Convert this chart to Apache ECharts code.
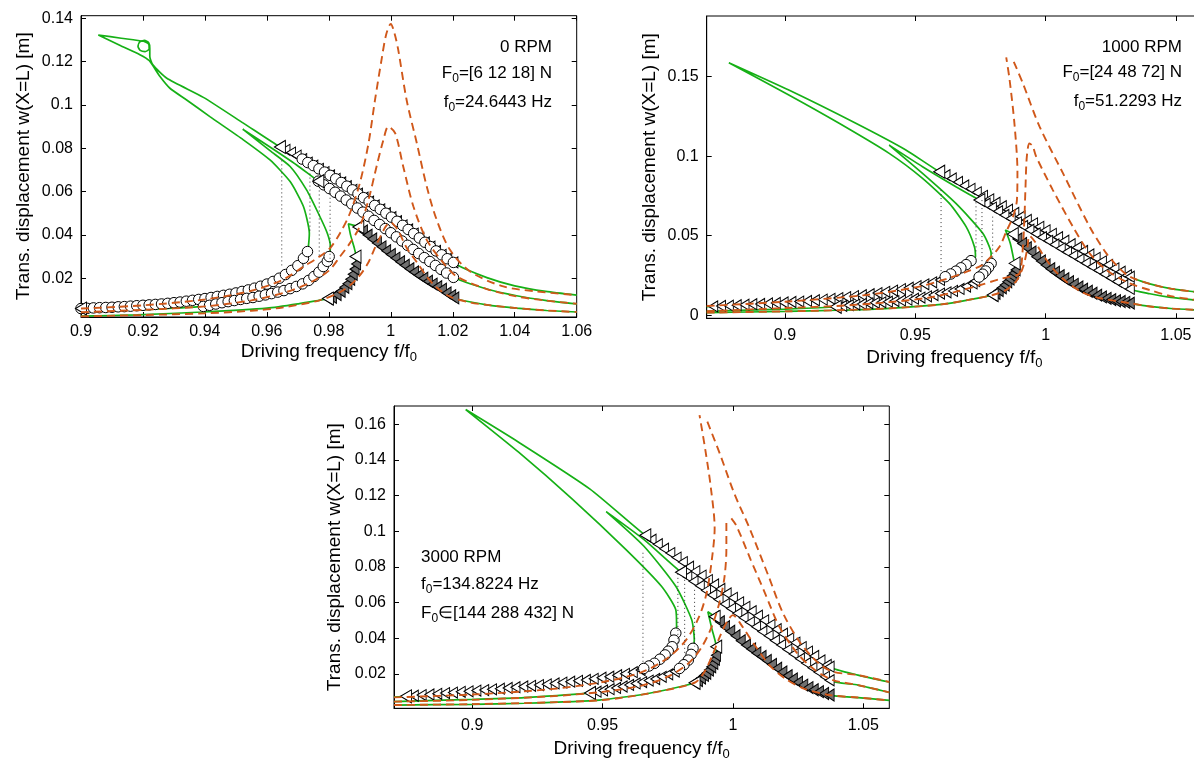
<!DOCTYPE html>
<html>
<head>
<meta charset="utf-8">
<title>Frequency response</title>
<script src="https://cdn.jsdelivr.net/npm/echarts@6/dist/echarts.min.js"></script>
<style>
  html, body { margin: 0; padding: 0; background: #fff; }
  #chart { width: 1194px; height: 764px; }
</style>
</head>
<body>
<div id="chart"></div>
<script>
// ---------- ticks ----------
const p1XTicks = [0.9, 0.92, 0.94, 0.96, 0.98, 1, 1.02, 1.04, 1.06];
const p1YTicks = [0.02, 0.04, 0.06, 0.08, 0.1, 0.12, 0.14];
const p2XTicks = [0.9, 0.95, 1, 1.05];
const p2YTicks = [0, 0.05, 0.1, 0.15];
const p3XTicks = [0.9, 0.95, 1, 1.05];
const p3YTicks = [0.02, 0.04, 0.06, 0.08, 0.1, 0.12, 0.14, 0.16];

// ---------- panel 1 : 0 RPM ----------
const p1Green1 = [[1.06,0.0122],[1.05,0.0139],[1.04,0.0165],[1.031,0.0203],[1.0213,0.0262],[1.0128,0.0346],[1.0002,0.0482],[0.9894,0.059],[0.9804,0.0675],[0.9714,0.075],[0.9642,0.0806],[0.9524,0.0916],[0.9395,0.1035],[0.9277,0.1123],[0.9232,0.1185],[0.9222,0.1225],[0.9222,0.1262],[0.9218,0.1288],[0.9205,0.1298],[0.9189,0.129],[0.9184,0.127],[0.9191,0.1252],[0.9207,0.1246],[0.922,0.1258],[0.9219,0.128],[0.9202,0.1294],[0.913,0.1308],[0.9056,0.1323],[0.913,0.1272],[0.919,0.1232],[0.922,0.1205],[0.9255,0.1131],[0.9287,0.1077],[0.9341,0.1023],[0.9416,0.0946],[0.9524,0.0839],[0.961,0.0746],[0.9675,0.0646],[0.9718,0.0531],[0.9737,0.0408],[0.9734,0.0346],[0.9731,0.0323],[0.9718,0.0292],[0.97,0.0258],[0.966,0.0217],[0.96,0.0173],[0.954,0.0146],[0.948,0.0126],[0.942,0.0111],[0.936,0.0098],[0.93,0.0087],[0.921,0.0076],[0.912,0.0068],[0.9,0.006]];
const p1Green2 = [[1.06,0.0082],[1.0503,0.0097],[1.0406,0.0119],[1.031,0.015],[1.0202,0.0204],[1.0108,0.0295],[1.0,0.041],[0.991,0.0505],[0.9802,0.0614],[0.9766,0.0648],[0.9696,0.0723],[0.961,0.0806],[0.9522,0.0888],[0.961,0.0789],[0.9675,0.0716],[0.9728,0.0608],[0.9766,0.05],[0.9795,0.0408],[0.9805,0.0346],[0.9801,0.03],[0.9782,0.0254],[0.9739,0.0193],[0.9664,0.0147],[0.9556,0.0111],[0.9449,0.0085],[0.9395,0.007],[0.92,0.0055],[0.9,0.0045]];
const p1Green3 = [[1.06,0.0044],[1.0503,0.0051],[1.0406,0.0062],[1.031,0.0077],[1.0213,0.0103],[1.0205,0.0109],[1.0135,0.0173],[1.006,0.0244],[1.0,0.031],[0.994,0.0381],[0.9895,0.0437],[0.9863,0.0451],[0.987,0.04],[0.9882,0.034],[0.9888,0.03],[0.9888,0.0266],[0.9879,0.022],[0.9858,0.0173],[0.9825,0.0127],[0.9797,0.0106],[0.97,0.0082],[0.96,0.0062],[0.9395,0.0044],[0.918,0.0031],[0.9,0.0025]];
const p1Dash1 = [[0.9,0.006],[0.92,0.0075],[0.94,0.0102],[0.955,0.0142],[0.965,0.0192],[0.972,0.0255],[0.977,0.03],[0.9804,0.0339],[0.9836,0.0408],[0.9868,0.05],[0.99,0.0639],[0.9928,0.0823],[0.9949,0.1023],[0.997,0.1208],[0.9985,0.1325],[1.0,0.1374],[1.0012,0.133],[1.0024,0.1254],[1.0051,0.1023],[1.0084,0.0823],[1.0116,0.0623],[1.0148,0.047],[1.0191,0.0331],[1.0256,0.0231],[1.0363,0.0162],[1.047,0.0139],[1.06,0.0122]];
const p1Dash2 = [[0.9,0.0043],[0.92,0.0054],[0.94,0.007],[0.955,0.0098],[0.966,0.0135],[0.974,0.018],[0.98,0.0235],[0.9836,0.03],[0.9868,0.0362],[0.99,0.0439],[0.9928,0.0562],[0.9954,0.0716],[0.9976,0.0838],[0.9992,0.09],[1.0014,0.087],[1.004,0.0716],[1.0073,0.0531],[1.0116,0.0377],[1.017,0.027],[1.0213,0.0208],[1.031,0.015],[1.0406,0.0116],[1.05,0.0097],[1.06,0.0082]];
const p1Dash3 = [[0.9,0.0024],[0.92,0.003],[0.94,0.0038],[0.955,0.005],[0.965,0.0065],[0.977,0.0098],[0.9836,0.0136],[0.9868,0.0167],[0.99,0.0213],[0.9928,0.0274],[0.9949,0.0341],[0.997,0.0403],[0.9985,0.0442],[1.0,0.0458],[1.0012,0.0443],[1.0024,0.042],[1.0051,0.0341],[1.0084,0.0274],[1.0116,0.0208],[1.0148,0.0157],[1.0191,0.0115],[1.0256,0.0088],[1.031,0.0077],[1.0406,0.0062],[1.0503,0.0051],[1.06,0.0044]];
const p1TriTop = [[0.9642,0.0806],[0.966,0.0793],[0.9678,0.078],[0.9696,0.0766],[0.9714,0.075],[0.9732,0.0734],[0.975,0.072],[0.9768,0.0705],[0.9786,0.069],[0.9804,0.0675],[0.9822,0.0659],[0.984,0.0642],[0.9858,0.0625],[0.9876,0.0608],[0.9894,0.059],[0.9912,0.0572],[0.993,0.0554],[0.9948,0.0536],[0.9966,0.0518],[0.9984,0.05],[1.0002,0.0482],[1.002,0.0463],[1.0038,0.0444],[1.0056,0.0425],[1.0074,0.0406],[1.0092,0.0386],[1.011,0.0366],[1.0128,0.0346],[1.0146,0.0326],[1.0164,0.0308],[1.0182,0.029],[1.0202,0.0273]];
const p1CircMid = [[0.9766,0.0648],[0.9784,0.0631],[0.9802,0.0614],[0.982,0.0597],[0.9838,0.0579],[0.9856,0.0561],[0.9874,0.0543],[0.9892,0.0524],[0.991,0.0505],[0.9928,0.0486],[0.9946,0.0467],[0.9964,0.0448],[0.9982,0.0429],[1.0,0.041],[1.0018,0.0391],[1.0036,0.0372],[1.0054,0.0352],[1.0072,0.0333],[1.009,0.0314],[1.0108,0.0295],[1.0126,0.0277],[1.0144,0.0259],[1.0162,0.0241],[1.018,0.0224],[1.0202,0.0204]];
const p1GrayUp = [[0.9895,0.0437],[0.991,0.0418],[0.9925,0.0399],[0.994,0.0381],[0.9955,0.0363],[0.997,0.0345],[0.9985,0.0327],[1.0,0.031],[1.0015,0.0293],[1.003,0.0276],[1.0045,0.026],[1.006,0.0244],[1.0075,0.0229],[1.009,0.0214],[1.0105,0.02],[1.012,0.0186],[1.0135,0.0173],[1.015,0.0161],[1.0165,0.0149],[1.018,0.0132],[1.0195,0.0119],[1.0205,0.0109]];
const p1CircLow1 = [[0.9,0.006],[0.902,0.0061],[0.904,0.0063],[0.906,0.0064],[0.908,0.0065],[0.91,0.0066],[0.912,0.0068],[0.914,0.0069],[0.916,0.0071],[0.918,0.0073],[0.92,0.0075],[0.922,0.0077],[0.924,0.0079],[0.926,0.0081],[0.928,0.0084],[0.93,0.0087],[0.932,0.009],[0.934,0.0094],[0.936,0.0098],[0.938,0.0102],[0.94,0.0106],[0.942,0.0111],[0.944,0.0116],[0.946,0.0121],[0.948,0.0126],[0.95,0.0132],[0.952,0.0139],[0.954,0.0146],[0.956,0.0154],[0.958,0.0163],[0.96,0.0173],[0.962,0.0185],[0.964,0.02],[0.966,0.0217],[0.968,0.0236],[0.97,0.0258],[0.9718,0.0292],[0.9731,0.0323]];
const p1CircLow2 = [[0.9395,0.007],[0.9415,0.0075],[0.9435,0.0081],[0.9455,0.0087],[0.9475,0.0092],[0.9495,0.0097],[0.9515,0.0102],[0.9535,0.0107],[0.9555,0.0111],[0.9575,0.0117],[0.9595,0.0123],[0.9615,0.0129],[0.9635,0.0136],[0.9655,0.0143],[0.9675,0.0152],[0.9695,0.0162],[0.9715,0.0174],[0.9735,0.019],[0.9752,0.0208],[0.9768,0.0228],[0.9782,0.0254],[0.9795,0.0278],[0.9801,0.03]];
const p1GrayLow = [[0.9797,0.0106],[0.981,0.0112],[0.9825,0.0125],[0.9838,0.014],[0.985,0.0158],[0.986,0.0175],[0.9869,0.0195],[0.9877,0.0218],[0.9883,0.0242],[0.9888,0.0266]];
const p1Starts = [[0.9642,0.0806],[0.9766,0.0648],[0.9895,0.0437],[0.9886,0.03],[0.9797,0.0106],[0.9,0.006]];
const p1Dots = [[0.9648,0.0744,0.025],[0.9739,0.0683,0.042],[0.9769,0.0605,0.0296],[0.9804,0.059,0.028]];

// ---------- panel 2 : 1000 RPM ----------
const p2Green1 = [[1.06,0.0142],[1.0567,0.0148],[1.048,0.0167],[1.04,0.0197],[1.0323,0.0242],[1.0,0.0534],[0.9592,0.0903],[0.9464,0.1039],[0.9272,0.1207],[0.9015,0.1416],[0.8785,0.1588],[0.9015,0.1385],[0.9208,0.1207],[0.94,0.1018],[0.9528,0.0861],[0.9631,0.0703],[0.9695,0.0557],[0.9727,0.0431],[0.9731,0.0368],[0.9714,0.0343],[0.9656,0.0277],[0.9595,0.0222],[0.9464,0.0169],[0.9272,0.0121],[0.908,0.0089],[0.8887,0.007],[0.87,0.0053]];
const p2Green2 = [[1.06,0.0091],[1.0567,0.0096],[1.048,0.0112],[1.04,0.0135],[1.0323,0.0165],[1.0,0.0478],[0.9746,0.0724],[0.9656,0.0808],[0.9528,0.0934],[0.94,0.107],[0.9528,0.0892],[0.9656,0.0703],[0.9759,0.0515],[0.9791,0.0389],[0.9791,0.0326],[0.9759,0.0258],[0.972,0.02],[0.9656,0.0158],[0.9528,0.0116],[0.94,0.0085],[0.9272,0.0068],[0.9195,0.0053],[0.9,0.0038],[0.87,0.0025]];
const p2Green3 = [[1.06,0.0032],[1.0567,0.0034],[1.048,0.0042],[1.04,0.0055],[1.0323,0.0076],[1.0208,0.0116],[1.008,0.0221],[0.9977,0.0347],[0.9874,0.051],[0.9846,0.0536],[0.9865,0.045],[0.9881,0.0326],[0.9887,0.029],[0.9875,0.0245],[0.985,0.0195],[0.982,0.0155],[0.9797,0.0127],[0.97,0.0095],[0.96,0.0068],[0.94,0.0043],[0.92,0.0031],[0.9,0.0024],[0.87,0.0016]];
const p2Dash1a = [[0.87,0.0058],[0.9,0.0085],[0.93,0.0125],[0.95,0.0175],[0.962,0.0228],[0.97,0.0275],[0.9753,0.0312],[0.9785,0.0358],[0.9823,0.043],[0.9849,0.0525],[0.9875,0.062],[0.989,0.0724],[0.9892,0.09],[0.9881,0.1196],[0.9862,0.148],[0.9849,0.1622]];
const p2Dash1b = [[0.9878,0.1594],[0.9913,0.1458],[0.9977,0.1186],[1.0067,0.0892],[1.0169,0.0557],[1.0233,0.0389],[1.028,0.03],[1.0323,0.0242],[1.04,0.0197],[1.048,0.0167],[1.0567,0.0148],[1.06,0.0142]];
const p2Dash2 = [[0.87,0.0025],[0.9,0.0045],[0.92,0.0058],[0.94,0.0082],[0.955,0.011],[0.965,0.0145],[0.975,0.019],[0.982,0.0225],[0.987,0.0245],[0.99,0.0263],[0.9913,0.0431],[0.9919,0.062],[0.9923,0.0808],[0.9928,0.0997],[0.9938,0.108],[0.995,0.1065],[0.9964,0.0997],[1.0028,0.0787],[1.0105,0.0556],[1.0169,0.0389],[1.0233,0.0284],[1.0323,0.02],[1.04,0.0158],[1.048,0.012],[1.0567,0.0098],[1.06,0.0091]];
const p2Dash3 = [[0.87,0.0016],[0.9,0.0024],[0.92,0.0031],[0.94,0.0043],[0.96,0.0068],[0.97,0.0095],[0.9797,0.0127],[0.985,0.016],[0.989,0.022],[0.9915,0.031],[0.993,0.042],[0.9938,0.05],[0.996,0.046],[0.999,0.038],[1.003,0.029],[1.008,0.021],[1.014,0.0145],[1.02,0.011],[1.0323,0.0076],[1.04,0.0055],[1.048,0.0042],[1.0567,0.0034],[1.06,0.0032]];
const p2TriTop = [[0.9592,0.0903],[0.9616,0.0881],[0.964,0.086],[0.9664,0.0838],[0.9688,0.0816],[0.9712,0.0795],[0.9736,0.0773],[0.976,0.0751],[0.9784,0.0729],[0.9808,0.0708],[0.9832,0.0686],[0.9856,0.0664],[0.988,0.0643],[0.9904,0.0621],[0.9928,0.0599],[0.9952,0.0578],[0.9976,0.0556],[1.0,0.0534],[1.0024,0.0512],[1.0048,0.0491],[1.0072,0.0469],[1.0096,0.0447],[1.012,0.0426],[1.0144,0.0404],[1.0168,0.0382],[1.0192,0.0361],[1.0216,0.0339],[1.024,0.0317],[1.0264,0.0295],[1.0288,0.0274],[1.0312,0.0252],[1.0323,0.0242]];
const p2TriMid = [[0.9746,0.0724],[0.977,0.0701],[0.9794,0.0677],[0.9818,0.0654],[0.9842,0.0631],[0.9866,0.0608],[0.989,0.0584],[0.9914,0.0561],[0.9938,0.0538],[0.9962,0.0514],[0.9986,0.0491],[1.001,0.0468],[1.0034,0.0445],[1.0058,0.0421],[1.0082,0.0398],[1.0106,0.0375],[1.013,0.0352],[1.0154,0.0328],[1.0178,0.0305],[1.0202,0.0282],[1.0226,0.0259],[1.025,0.0235],[1.0274,0.0212],[1.0298,0.0189],[1.0323,0.0165]];
const p2GrayUp = [[0.9874,0.051],[0.9892,0.048],[0.991,0.0451],[0.9928,0.0424],[0.9946,0.0398],[0.9964,0.0368],[0.9982,0.0341],[1.0,0.0316],[1.0018,0.0292],[1.0036,0.027],[1.0054,0.0249],[1.0072,0.0229],[1.009,0.0211],[1.0108,0.0194],[1.0126,0.0178],[1.0144,0.0164],[1.0162,0.0151],[1.018,0.0138],[1.0198,0.0126],[1.0216,0.0115],[1.0234,0.0106],[1.0252,0.0098],[1.027,0.0091],[1.0288,0.0086],[1.0306,0.0081],[1.0323,0.0076]];
const p2TriLow1 = [[0.8695,0.0053],[0.8725,0.0055],[0.8755,0.0058],[0.8785,0.006],[0.8815,0.0063],[0.8845,0.0066],[0.8875,0.0069],[0.8905,0.0071],[0.8935,0.0074],[0.8965,0.0077],[0.8995,0.008],[0.9025,0.0083],[0.9055,0.0086],[0.9085,0.009],[0.9115,0.0094],[0.9145,0.0098],[0.9175,0.0103],[0.9205,0.0108],[0.9235,0.0114],[0.9265,0.012],[0.9295,0.0126],[0.9325,0.0132],[0.9355,0.0139],[0.9385,0.0147],[0.9415,0.0155],[0.9445,0.0164],[0.9475,0.0173],[0.9505,0.0183],[0.9535,0.0194],[0.9565,0.0207],[0.9595,0.0222]];
const p2TriLow2 = [[0.9195,0.0053],[0.922,0.0058],[0.9245,0.0063],[0.927,0.0067],[0.9295,0.0071],[0.932,0.0075],[0.9345,0.0078],[0.937,0.0081],[0.9395,0.0085],[0.942,0.0089],[0.9445,0.0093],[0.947,0.0098],[0.9495,0.0104],[0.952,0.0111],[0.9545,0.0119],[0.957,0.0127],[0.9595,0.0136],[0.962,0.0144],[0.9645,0.0153],[0.967,0.0165],[0.9695,0.018],[0.972,0.02],[0.973,0.0215]];
const p2CircLow1 = [[0.9714,0.0343],[0.9695,0.0318],[0.9675,0.0298],[0.9656,0.0277],[0.9636,0.0259],[0.9615,0.0242]];
const p2CircLow2 = [[0.9791,0.0326],[0.9781,0.03],[0.977,0.0278],[0.9759,0.0258],[0.9745,0.024]];
const p2GrayLow = [[0.9797,0.0127],[0.9808,0.0138],[0.982,0.0155],[0.9832,0.0172],[0.9843,0.019],[0.9853,0.021],[0.9862,0.0228],[0.987,0.0247],[0.9878,0.0266],[0.9885,0.0285]];
const p2Starts = [[0.9592,0.0903],[0.9746,0.0724],[0.9874,0.051],[0.9881,0.0326],[0.9797,0.0127],[0.8695,0.0053],[0.9195,0.0053]];
const p2Dots = [[0.9599,0.0787,0.0263],[0.9733,0.0735,0.0389],[0.9756,0.0724,0.0305],[0.9797,0.062,0.0347]];

// ---------- panel 3 : 3000 RPM ----------
const p3Green1 = [[1.06,0.0155],[1.048,0.0194],[1.037,0.0241],[1.0,0.0627],[0.9664,0.0978],[0.9452,0.1237],[0.9178,0.15],[0.8975,0.1683],[0.9178,0.1444],[0.9384,0.1181],[0.9589,0.0899],[0.9726,0.0692],[0.9781,0.056],[0.9784,0.0466],[0.9781,0.0429],[0.9767,0.0353],[0.974,0.0307],[0.9699,0.026],[0.9658,0.0231],[0.952,0.0184],[0.9315,0.0147],[0.911,0.0118],[0.8904,0.0094],[0.8746,0.0075],[0.87,0.0071]];
const p3Green2 = [[1.06,0.0097],[1.048,0.0138],[1.037,0.0165],[1.0,0.0559],[0.9801,0.0771],[0.9658,0.0955],[0.9514,0.1111],[0.9658,0.0918],[0.9781,0.0692],[0.9842,0.0504],[0.9852,0.0391],[0.9847,0.0344],[0.9829,0.0278],[0.9795,0.0231],[0.9726,0.0184],[0.9589,0.0137],[0.9452,0.0094],[0.92,0.0068],[0.9,0.0058],[0.87,0.0045]];
const p3Green3 = [[1.06,0.0052],[1.048,0.0068],[1.0371,0.0082],[1.0256,0.0148],[1.0128,0.0278],[1.0026,0.0391],[0.993,0.0521],[0.9904,0.0549],[0.992,0.045],[0.9936,0.0353],[0.9936,0.0316],[0.993,0.026],[0.9898,0.0204],[0.9853,0.0151],[0.968,0.0092],[0.9488,0.0054],[0.92,0.0036],[0.9,0.003],[0.87,0.0026]];
const p3Dash1a = [[0.87,0.0069],[0.9,0.0085],[0.93,0.0115],[0.95,0.0155],[0.965,0.021],[0.975,0.029],[0.982,0.039],[0.987,0.052],[0.99,0.066],[0.992,0.085],[0.993,0.1017],[0.9915,0.125],[0.9895,0.145],[0.9872,0.1652]];
const p3Dash1b = [[0.9902,0.1615],[0.995,0.1435],[1.0006,0.121],[1.0064,0.1017],[1.0137,0.0748],[1.0192,0.0542],[1.026,0.0372],[1.0329,0.026],[1.0384,0.0213],[1.048,0.0194],[1.06,0.0155]];
const p3Dash2a = [[0.87,0.0045],[0.9,0.0055],[0.93,0.0075],[0.95,0.01],[0.965,0.0135],[0.975,0.0185],[0.983,0.026],[0.988,0.035],[0.992,0.047],[0.995,0.061],[0.9968,0.0746],[0.9975,0.09],[0.9975,0.1063]];
const p3Dash2b = [[0.9994,0.1073],[1.0014,0.103],[1.0068,0.0842],[1.0123,0.0654],[1.0178,0.0466],[1.0247,0.0316],[1.0315,0.0222],[1.0384,0.0166],[1.048,0.0138],[1.06,0.0097]];
const p3Dash3 = [[0.87,0.0026],[0.9,0.0031],[0.93,0.0041],[0.95,0.0054],[0.968,0.0092],[0.9853,0.0151],[0.989,0.021],[0.992,0.03],[0.995,0.041],[0.998,0.05],[1.0,0.053],[1.003,0.048],[1.008,0.037],[1.014,0.025],[1.02,0.0175],[1.027,0.012],[1.037,0.0082],[1.048,0.0068],[1.06,0.0052]];
const p3TriTop = [[0.9664,0.0978],[0.9688,0.0953],[0.9712,0.0928],[0.9736,0.0903],[0.976,0.0878],[0.9784,0.0853],[0.9808,0.0828],[0.9832,0.0802],[0.9856,0.0777],[0.988,0.0752],[0.9904,0.0727],[0.9928,0.0702],[0.9952,0.0677],[0.9976,0.0652],[1.0,0.0627],[1.0024,0.0602],[1.0048,0.0577],[1.0072,0.0552],[1.0096,0.0527],[1.012,0.0501],[1.0144,0.0476],[1.0168,0.0451],[1.0192,0.0426],[1.0216,0.0401],[1.024,0.0376],[1.0264,0.0351],[1.0288,0.0326],[1.0312,0.0301],[1.0336,0.0276],[1.036,0.0251],[1.0371,0.0241]];
const p3TriMid = [[0.9801,0.0771],[0.9825,0.0746],[0.9849,0.072],[0.9873,0.0695],[0.9897,0.0669],[0.9921,0.0643],[0.9945,0.0618],[0.9969,0.0592],[0.9993,0.0567],[1.0017,0.0541],[1.0041,0.0516],[1.0065,0.049],[1.0089,0.0465],[1.0113,0.0439],[1.0137,0.0414],[1.0161,0.0388],[1.0185,0.0363],[1.0209,0.0337],[1.0233,0.0312],[1.0257,0.0286],[1.0281,0.0261],[1.0305,0.0235],[1.0329,0.021],[1.0353,0.0184],[1.0371,0.0165]];
const p3GrayUp = [[0.993,0.0521],[0.995,0.0493],[0.997,0.0465],[0.999,0.044],[1.001,0.0415],[1.003,0.0387],[1.005,0.0362],[1.007,0.034],[1.009,0.0318],[1.011,0.0298],[1.013,0.0276],[1.015,0.0254],[1.017,0.0232],[1.019,0.0211],[1.021,0.0191],[1.023,0.0172],[1.025,0.0154],[1.027,0.0138],[1.029,0.0124],[1.031,0.0112],[1.033,0.0101],[1.035,0.0091],[1.0371,0.0082]];
const p3TriLow1 = [[0.8746,0.0075],[0.8776,0.0078],[0.8806,0.0082],[0.8836,0.0085],[0.8866,0.0089],[0.8896,0.0093],[0.8926,0.0096],[0.8956,0.01],[0.8986,0.0103],[0.9016,0.0107],[0.9046,0.011],[0.9076,0.0114],[0.9106,0.0118],[0.9136,0.0122],[0.9166,0.0126],[0.9196,0.013],[0.9226,0.0134],[0.9256,0.0138],[0.9286,0.0142],[0.9316,0.0147],[0.9346,0.0152],[0.9376,0.0157],[0.9406,0.0162],[0.9436,0.0167],[0.9466,0.0173],[0.9496,0.0179],[0.9526,0.0185],[0.9556,0.0193],[0.9586,0.0201],[0.9616,0.021],[0.9646,0.0222]];
const p3TriLow2 = [[0.9452,0.0094],[0.9477,0.0101],[0.9502,0.0108],[0.9527,0.0115],[0.9552,0.0122],[0.9577,0.013],[0.9602,0.0139],[0.9627,0.0147],[0.9652,0.0155],[0.9677,0.0163],[0.9702,0.0172],[0.9727,0.0184],[0.9752,0.0198],[0.9777,0.0214]];
const p3CircLow1 = [[0.9781,0.0429],[0.9774,0.039],[0.9767,0.0353],[0.9752,0.0328],[0.974,0.0307],[0.972,0.0283],[0.9699,0.026],[0.9678,0.0245],[0.9658,0.0231]];
const p3CircLow2 = [[0.9847,0.0344],[0.984,0.031],[0.9829,0.0278],[0.9812,0.0252],[0.9795,0.0231]];
const p3GrayLow = [[0.9853,0.0151],[0.9866,0.0163],[0.9878,0.0177],[0.9889,0.0192],[0.9898,0.0204],[0.9908,0.0222],[0.9917,0.024],[0.9925,0.026],[0.9931,0.0283],[0.9935,0.0305]];
const p3Starts = [[0.9664,0.0978],[0.9801,0.0771],[0.993,0.0521],[0.9936,0.0353],[0.9853,0.0151],[0.8746,0.0075],[0.9452,0.0094]];
const p3Dots = [[0.9655,0.088,0.026],[0.9789,0.0784,0.0355],[0.9815,0.0728,0.0297],[0.9853,0.0672,0.0355]];

// ---------- styles ----------
const FONT = '"Liberation Sans", Arial, Helvetica, sans-serif';
const GREEN = '#16b016';
const ORANGE = '#d0581a';
const GRAYFILL = '#707070';
const fmt = v => String(parseFloat(v.toFixed(3)));

const SUB = {
  t: { fontSize: 19, fontFamily: FONT, color: '#000' },
  s: { fontSize: 13, fontFamily: FONT, color: '#000', padding: [12, 0, 0, 0] }
};

// grids: left/top/width/height in px
const grids = [
  { left: 81, top: 15.7, width: 495.7, height: 301.3 },
  { left: 706.7, top: 16, width: 495.3, height: 302.3 },
  { left: 394, top: 406, width: 495.3, height: 302.3 }
].map(g => Object.assign(g, { show: true, borderColor: '#000', borderWidth: 1, backgroundColor: 'transparent', outerBoundsMode: 'none', containLabel: false }));

function xPair(gi, min, max, ticks, gap, margin) {
  const tick = { show: true, inside: true, length: 5, customValues: ticks, lineStyle: { color: '#000', width: 1 } };
  return [
    { type: 'value', gridIndex: gi, position: 'bottom', min, max, splitLine: { show: false },
      axisLine: { show: true, onZero: false, lineStyle: { color: '#000', width: 1 } },
      axisTick: tick,
      axisLabel: { show: true, customValues: ticks, formatter: fmt, color: '#000', fontSize: 16, fontFamily: FONT, margin },
      name: '{t|Driving frequency f/f}{s|0}', nameLocation: 'middle', nameGap: gap,
      nameTextStyle: { rich: SUB } },
    { type: 'value', gridIndex: gi, position: 'top', min, max, splitLine: { show: false },
      axisLine: { show: false, onZero: false }, axisTick: tick, axisLabel: { show: false } }
  ];
}

function yPair(gi, min, max, ticks, gap) {
  const tick = { show: true, inside: true, length: 5, customValues: ticks, lineStyle: { color: '#000', width: 1 } };
  return [
    { type: 'value', gridIndex: gi, position: 'left', min, max, splitLine: { show: false },
      axisLine: { show: true, onZero: false, lineStyle: { color: '#000', width: 1 } },
      axisTick: tick,
      axisLabel: { show: true, customValues: ticks, formatter: fmt, color: '#000', fontSize: 16, fontFamily: FONT, margin: 8 },
      name: 'Trans. displacement w(X=L) [m]', nameLocation: 'middle', nameGap: gap, nameRotate: 90,
      nameTextStyle: { fontSize: 19, fontFamily: FONT, color: '#000' } },
    { type: 'value', gridIndex: gi, position: 'right', min, max, splitLine: { show: false },
      axisLine: { show: false, onZero: false }, axisTick: tick, axisLabel: { show: false } }
  ];
}

// series helpers
function green(data, a) {
  return { type: 'line', data, xAxisIndex: a, yAxisIndex: a, symbol: 'none', smooth: 0.2, z: 2,
    lineStyle: { color: GREEN, width: 1.7 }, silent: true, animation: false };
}
function dash(data, a) {
  return { type: 'line', data, xAxisIndex: a, yAxisIndex: a, symbol: 'none', smooth: 0.3, z: 5,
    lineStyle: { color: ORANGE, width: 1.9, type: [8, 5] }, silent: true, animation: false };
}
function dots(list, a) {
  return list.map(d => ({ type: 'line', data: [[d[0], d[1]], [d[0], d[2]]], xAxisIndex: a, yAxisIndex: a,
    symbol: 'none', z: 5, lineStyle: { color: '#333', width: 1, type: [1, 3] }, silent: true, animation: false }));
}
// chains are drawn in the order they are listed (low to high frequency)
function marks(data, a, kind) {
  const s = { type: 'scatter', data, xAxisIndex: a, yAxisIndex: a, z: 3, silent: true, animation: false,
    itemStyle: { color: '#fff', borderColor: '#000', borderWidth: 1, opacity: 1 } };
  if (kind === 'tri') Object.assign(s, { symbol: 'triangle', symbolRotate: 90, symbolSize: [11, 9] });
  if (kind === 'gray') Object.assign(s, { symbol: 'triangle', symbolRotate: 90, symbolSize: [12, 9],
    itemStyle: { color: GRAYFILL, borderColor: '#000', borderWidth: 1, opacity: 1 } });
  if (kind === 'circ') Object.assign(s, { symbol: 'circle', symbolSize: 10.5 });
  if (kind === 'start') Object.assign(s, { symbol: 'triangle', symbolRotate: 90, symbolSize: [13, 11], z: 4 });
  return s;
}

const series = [].concat(
  // panel 1
  [green(p1Green1, 0), green(p1Green2, 0), green(p1Green3, 0)],
  [marks(p1TriTop, 0, 'tri'), marks(p1TriTop.slice(4), 0, 'circ'), marks(p1CircMid, 0, 'circ'),
   marks(p1GrayUp, 0, 'gray'), marks(p1CircLow1, 0, 'circ'), marks(p1CircLow2, 0, 'circ'),
   marks(p1GrayLow, 0, 'gray'), marks(p1Starts, 0, 'start')],
  [dash(p1Dash1, 0), dash(p1Dash2, 0), dash(p1Dash3, 0)],
  dots(p1Dots, 0),
  // panel 2
  [green(p2Green1, 2), green(p2Green2, 2), green(p2Green3, 2)],
  [marks(p2TriLow1, 2, 'tri'), marks(p2TriLow2, 2, 'tri'), marks(p2TriTop, 2, 'tri'), marks(p2TriMid, 2, 'tri'),
   marks(p2GrayUp, 2, 'gray'), marks(p2CircLow1, 2, 'circ'), marks(p2CircLow2, 2, 'circ'),
   marks(p2GrayLow, 2, 'gray'), marks(p2Starts, 2, 'start')],
  [dash(p2Dash1a, 2), dash(p2Dash1b, 2), dash(p2Dash2, 2), dash(p2Dash3, 2)],
  dots(p2Dots, 2),
  // panel 3
  [green(p3Green1, 4), green(p3Green2, 4), green(p3Green3, 4)],
  [marks(p3TriLow1, 4, 'tri'), marks(p3TriLow2, 4, 'tri'), marks(p3TriTop, 4, 'tri'), marks(p3TriMid, 4, 'tri'),
   marks(p3GrayUp, 4, 'gray'), marks(p3CircLow1, 4, 'circ'), marks(p3CircLow2, 4, 'circ'),
   marks(p3GrayLow, 4, 'gray'), marks(p3Starts, 4, 'start')],
  [dash(p3Dash1a, 4), dash(p3Dash1b, 4), dash(p3Dash2a, 4), dash(p3Dash2b, 4), dash(p3Dash3, 4)],
  dots(p3Dots, 4)
);

// annotations (rich text with subscripts)
const NOTE = {
  a: { fontSize: 17, fontFamily: FONT, fill: '#000' },
  s: { fontSize: 12, fontFamily: FONT, fill: '#000', padding: [11, 0, 0, 0] }
};
function note(x, y, text, align) {
  return { type: 'text', x, y, silent: true, z: 10,
    style: { text, rich: NOTE, align, verticalAlign: 'middle', fontSize: 17, fontFamily: FONT, fill: '#000' } };
}
const notes = [
  note(552, 47, '{a|0 RPM}', 'right'),
  note(552, 73, '{a|F}{s|0}{a|=[6 12 18] N}', 'right'),
  note(552, 102, '{a|f}{s|0}{a|=24.6443 Hz}', 'right'),
  note(1182, 47, '{a|1000 RPM}', 'right'),
  note(1182, 72, '{a|F}{s|0}{a|=[24 48 72] N}', 'right'),
  note(1182, 101, '{a|f}{s|0}{a|=51.2293 Hz}', 'right'),
  note(421, 557, '{a|3000 RPM}', 'left'),
  note(421, 584, '{a|f}{s|0}{a|=134.8224 Hz}', 'left'),
  note(421, 613, '{a|F}{s|0}{a|∈[144 288 432] N}', 'left')
];

const option = {
  backgroundColor: '#fff',
  animation: false,
  grid: grids,
  xAxis: [].concat(xPair(0, 0.9, 1.06, p1XTicks, 22, 7), xPair(1, 0.87, 1.06, p2XTicks, 27, 9), xPair(2, 0.87, 1.06, p3XTicks, 28, 9)),
  yAxis: [].concat(yPair(0, 0.0021, 0.1412, p1YTicks, 48), yPair(1, -0.00195, 0.1882, p2YTicks, 47), yPair(2, 0.00077, 0.1703, p3YTicks, 50)),
  graphic: notes,
  series
};

const chart = echarts.init(document.getElementById('chart'), null, { renderer: 'canvas' });
chart.setOption(option);
window.addEventListener('resize', () => chart.resize());
</script>
</body>
</html>
